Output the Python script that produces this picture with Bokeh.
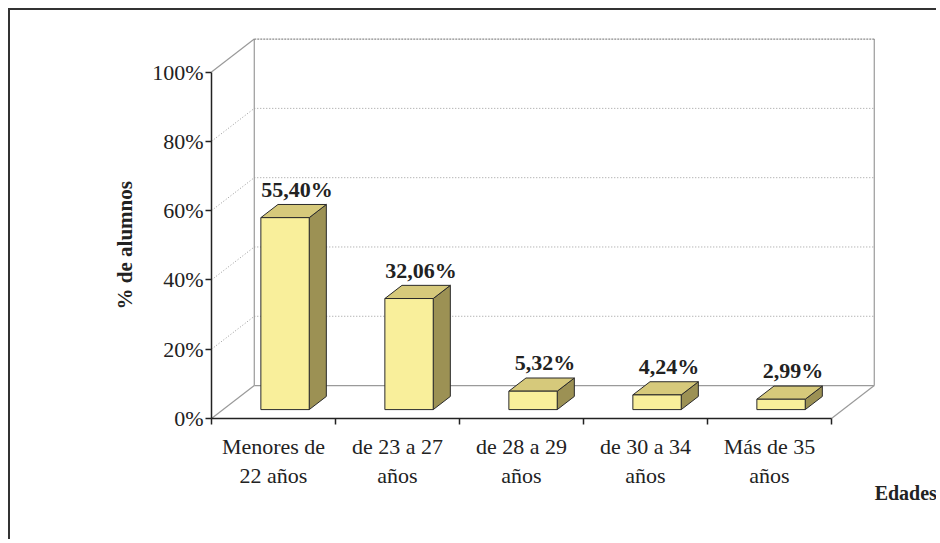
import numpy as np
from bokeh.plotting import figure
from bokeh.models import Range1d, LinearAxis, FixedTicker, ColumnDataSource
from bokeh.embed import file_html
from bokeh.resources import INLINE
from bokeh.core.properties import value

# ---- data ----
categories = ["Menores de\n22 años", "de 23 a 27\naños", "de 28 a 29\naños",
              "de 30 a 34\naños", "Más de 35\naños"]
percentages = [55.40, 32.06, 5.32, 4.24, 2.99]
value_labels = ["55,40%", "32,06%", "5,32%", "4,24%", "2,99%"]
y_ticks = [0, 20, 40, 60, 80, 100]
y_tick_labels = ["0%", "20%", "40%", "60%", "80%", "100%"]
y_title = "% de alumnos"
x_title = "Edades"

# ---- layout / 3D geometry (in data units) ----
X_START, X_END = -1.621, 5.863
Y_START, Y_END = -35.5, 117.75
DX, DY = 0.345, 9.5       # depth offset of the back wall
F0, F1 = 0.27, 0.67       # bar depth (front, back) as fraction of depth
HW = 0.195                # half bar width
FONT = "Liberation Serif"
TXT = "#222222"
WALL = "#9a9a9a"

p = figure(width=928, height=531, x_range=Range1d(X_START, X_END), y_range=Range1d(Y_START, Y_END),
           output_backend="svg", toolbar_location=None,
           x_axis_location=None, y_axis_location=None,
           min_border_left=0, min_border_right=0, min_border_top=0, min_border_bottom=0)
p.grid.visible = False
p.outline_line_color = None
p.background_fill_color = "white"
p.border_fill_color = "white"
p.styles = {"margin-top": "8px", "margin-left": "8px",
            "border-top": "2px solid #333333", "border-left": "2px solid #333333"}

n = len(percentages)
vals = np.array(percentages)
centers = np.arange(n) + 0.5
grid = np.array(y_ticks, dtype=float)
inner = grid[1:-1]
top = grid[-1]

# back wall & left wall: solid edges
p.segment(x0=[0, 0, DX, n + DX, n, DX],
          y0=[0, top, DY, DY, 0, DY],
          x1=[DX, DX, DX, n + DX, n + DX, n + DX],
          y1=[DY, top + DY, top + DY, top + DY, DY, DY],
          line_color=WALL, line_width=1.2)
# top edge of back wall
p.segment(x0=[DX], y0=[top + DY], x1=[n + DX], y1=[top + DY],
          line_color="#8a8a8a", line_width=1.2, line_dash="2 1")
# dotted gridlines: left wall diagonals and back wall horizontals
p.segment(x0=np.zeros(len(inner)), y0=inner, x1=np.full(len(inner), DX), y1=inner + DY,
          line_color=WALL, line_width=1, line_dash="1 2")
p.segment(x0=np.full(len(inner), DX), y0=inner + DY, x1=np.full(len(inner), n + DX), y1=inner + DY,
          line_color=WALL, line_width=1, line_dash="1 2")

# bars
d = F1 - F0
xl = centers - HW + F0 * DX
xr = centers + HW + F0 * DX
yb = np.full(n, F0 * DY)
yt = F0 * DY + vals

FRONT, TOPC, SIDE, EDGE = "#F9EF9B", "#D6C97B", "#9C9154", "#2a2a2a"
top_xs = [[a, b, b + d * DX, a + d * DX] for a, b in zip(xl, xr)]
top_ys = [[t, t, t + d * DY, t + d * DY] for t in yt]
side_xs = [[b, b + d * DX, b + d * DX, b] for b in xr]
side_ys = [[lo, lo + d * DY, t + d * DY, t] for lo, t in zip(yb, yt)]
p.patches(xs=side_xs, ys=side_ys, fill_color=SIDE, line_color=EDGE, line_width=1)
p.patches(xs=top_xs, ys=top_ys, fill_color=TOPC, line_color=EDGE, line_width=1)
p.quad(left=xl, right=xr, bottom=yb, top=yt, fill_color=FRONT, line_color=EDGE, line_width=1)

# value labels
lab = ColumnDataSource(dict(x=centers + 0.19, y=vals + F1 * DY + 4.4, t=value_labels))
p.text(x="x", y="y", text="t", source=lab, text_align="center", text_baseline="alphabetic",
       text_font=value(FONT), text_font_style="bold", text_font_size="22px", text_color=TXT)

# axis titles
p.text(x=[-0.694], y=[50], text=[y_title], angle=np.pi / 2, text_align="center",
       text_baseline="middle", text_font=value(FONT), text_font_style="bold",
       text_font_size="21px", text_color=TXT)
p.text(x=[5.85], y=[-21.6], text=[x_title], text_align="right", text_baseline="alphabetic",
       text_font=value(FONT), text_font_style="bold", text_font_size="20px", text_color=TXT)

# y axis
yax = LinearAxis(ticker=FixedTicker(ticks=y_ticks), bounds=(0, 100), fixed_location=0,
                 major_label_overrides={v: s for v, s in zip(y_ticks, y_tick_labels)})
# x axis
xax = LinearAxis(ticker=FixedTicker(ticks=list(centers), minor_ticks=list(range(n + 1))),
                 bounds=(0, n), fixed_location=0,
                 major_label_overrides={float(c): s for c, s in zip(centers, categories)})
for ax in (yax, xax):
    ax.axis_line_color = TXT
    ax.axis_line_width = 1.5
    ax.major_label_text_font = FONT
    ax.major_label_text_font_size = "22px"
    ax.major_label_text_color = TXT
    ax.minor_tick_line_color = None
yax.major_tick_out = 6
yax.major_tick_in = 0
yax.major_tick_line_color = TXT
yax.major_tick_line_width = 1.5
yax.major_label_standoff = 2

xax.major_tick_line_color = None
xax.major_tick_out = 0
xax.major_tick_in = 0
xax.minor_tick_line_color = TXT
xax.minor_tick_line_width = 1.5
xax.minor_tick_out = 6
xax.minor_tick_in = 0
xax.major_label_standoff = 10
xax.major_label_text_line_height = 1.15

p.add_layout(yax, "left")
p.add_layout(xax, "below")

open("out.html", "w").write(file_html(p, INLINE))
